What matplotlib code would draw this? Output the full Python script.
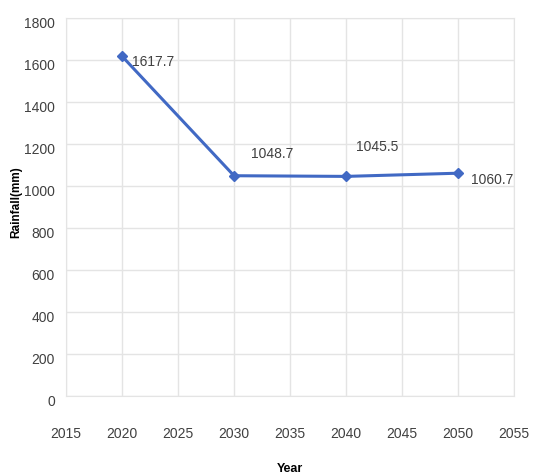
import matplotlib.pyplot as plt
from matplotlib.transforms import ScaledTranslation

years = [2020, 2030, 2040, 2050]
rainfall = [1617.7, 1048.7, 1045.5, 1060.7]
# label offsets in points (dx, dy) for each value
offsets = [(7, -4), (12, 16), (7, 21), (9, -5)]

plt.rcParams['font.family'] = ['Liberation Sans', 'DejaVu Sans']

fig = plt.figure(figsize=(5.34, 4.75), dpi=100)
ax = fig.add_axes([0.1236, 0.1663, 0.839, 0.796])

ax.plot(years, rainfall, color='#4169C4', linewidth=2.2, marker='D',
        markersize=5, zorder=3)

for x, y, (dx, dy) in zip(years, rainfall, offsets):
    ax.annotate('%.1f' % y, (x, y), xytext=(dx, dy), textcoords='offset points',
                fontsize=10, color='#404040', ha='left', va='center')

ax.set_xlim(2015, 2055)
ax.set_ylim(0, 1800)
ax.set_xticks(range(2015, 2056, 5))
ax.set_yticks(range(0, 1801, 200))
ax.tick_params(length=0, labelsize=10, labelcolor='#404040')
ax.tick_params(axis='x', pad=22)
ax.tick_params(axis='y', pad=8)
# y labels sit a little below their gridlines
for lab in ax.get_yticklabels():
    lab.set_transform(lab.get_transform() + ScaledTranslation(0, -3 / 72, fig.dpi_scale_trans))
ax.grid(color='#e4e4e4', linewidth=1)
ax.set_axisbelow(True)
for s in ax.spines.values():
    s.set_color('#e4e4e4')

ax.set_xlabel('Year', fontsize=9, fontweight='bold', labelpad=16)
fig.text(0.03, 0.575, 'Rainfall(mm)', rotation=90, fontsize=8.5,
         fontweight='bold', ha='center', va='center')

fig.savefig('out.png', dpi=100)
